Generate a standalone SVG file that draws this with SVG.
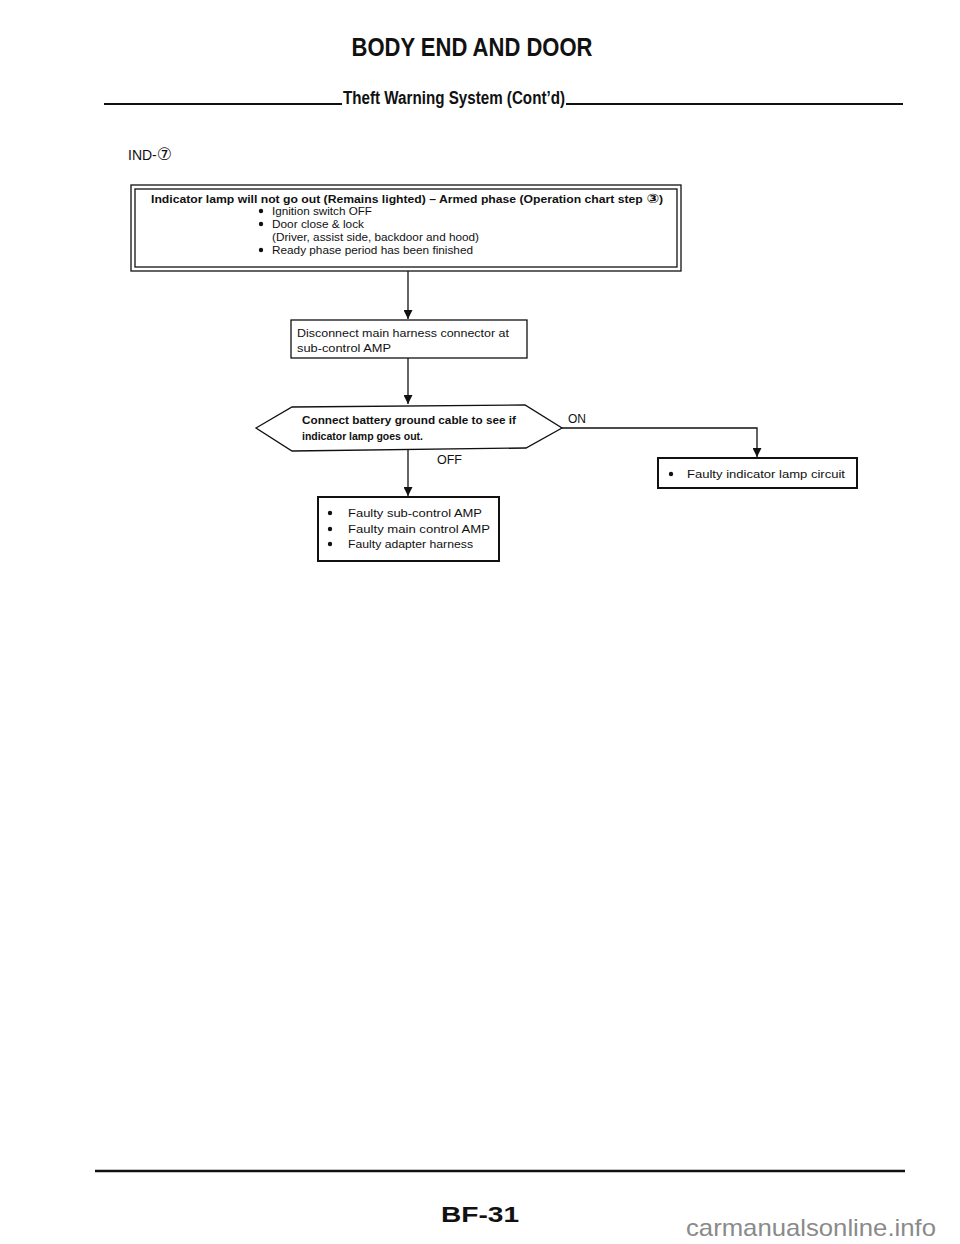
<svg xmlns="http://www.w3.org/2000/svg" width="960" height="1244" viewBox="0 0 960 1244">
<style>
.t{font-family:"Liberation Sans","DejaVu Sans",sans-serif;fill:#111}
.b{font-weight:bold}
.box{fill:none;stroke:#111;stroke-width:1.3}
.bx2{fill:none;stroke:#111;stroke-width:2}
.ln{fill:none;stroke:#111;stroke-width:1.3}
.rule{stroke:#111;stroke-width:2}
.s{font-size:11px}
.dot{fill:#111}
</style>
<defs>
<marker id="ah" viewBox="0 0 10 10" refX="10" refY="5" markerWidth="9" markerHeight="9" markerUnits="userSpaceOnUse" orient="auto">
<path d="M0,0 L10,5 L0,10 z" fill="#111"/>
</marker>
</defs>
<rect width="960" height="1244" fill="#fff"/>
<g id="header">
<text class="t b" x="472" y="56" font-size="26" text-anchor="middle" textLength="241" lengthAdjust="spacingAndGlyphs">BODY END AND DOOR</text>
<line class="rule" x1="104" y1="104" x2="342" y2="104"/>
<text class="t b" x="343" y="104" font-size="18" textLength="222" lengthAdjust="spacingAndGlyphs">Theft Warning System (Cont’d)</text>
<line class="rule" x1="566" y1="104" x2="903" y2="104"/>
<text class="t" x="128" y="160" font-size="14">IND-<tspan font-family="DejaVu Sans" font-size="17">⑦</tspan></text>
</g>
<g id="n1">
<rect class="box" x="131" y="185" width="550" height="86"/>
<rect class="box" x="135" y="189" width="542" height="78"/>
<text class="t b" font-size="10.5" x="151" y="203" textLength="512" lengthAdjust="spacingAndGlyphs">Indicator lamp will not go out (Remains lighted) – Armed phase (Operation chart step <tspan font-family="DejaVu Sans" font-size="13">③</tspan>)</text>
<circle class="dot" cx="261" cy="211" r="2.2"/>
<text class="t s" x="272" y="215" textLength="100" lengthAdjust="spacingAndGlyphs">Ignition switch OFF</text>
<circle class="dot" cx="261" cy="224" r="2.2"/>
<text class="t s" x="272" y="228" textLength="92" lengthAdjust="spacingAndGlyphs">Door close &amp; lock</text>
<text class="t s" x="272" y="241" textLength="207" lengthAdjust="spacingAndGlyphs">(Driver, assist side, backdoor and hood)</text>
<circle class="dot" cx="261" cy="250" r="2.2"/>
<text class="t s" x="272" y="254" textLength="201" lengthAdjust="spacingAndGlyphs">Ready phase period has been finished</text>
</g>
<g id="n2">
<rect class="box" x="291" y="320" width="236" height="38"/>
<text class="t s" x="297" y="337" textLength="212" lengthAdjust="spacingAndGlyphs">Disconnect main harness connector at</text>
<text class="t s" x="297" y="352" textLength="94" lengthAdjust="spacingAndGlyphs">sub-control AMP</text>
</g>
<g id="n3">
<polygon class="box" points="256,428 292,407 525,405 562,428 526,448 292,451"/>
<text class="t b s" x="302" y="424" textLength="214" lengthAdjust="spacingAndGlyphs">Connect battery ground cable to see if</text>
<text class="t b s" x="302" y="440" textLength="121" lengthAdjust="spacingAndGlyphs">indicator lamp goes out.</text>
</g>
<g id="n4">
<rect class="bx2" x="658" y="458" width="199" height="30"/>
<circle class="dot" cx="671" cy="474" r="2.2"/>
<text class="t s" x="687" y="478" textLength="158" lengthAdjust="spacingAndGlyphs">Faulty indicator lamp circuit</text>
</g>
<g id="n5">
<rect class="bx2" x="318" y="497" width="181" height="64"/>
<circle class="dot" cx="330" cy="513" r="2.2"/>
<text class="t s" x="348" y="517" textLength="134" lengthAdjust="spacingAndGlyphs">Faulty sub-control AMP</text>
<circle class="dot" cx="330" cy="529" r="2.2"/>
<text class="t s" x="348" y="533" textLength="142" lengthAdjust="spacingAndGlyphs">Faulty main control AMP</text>
<circle class="dot" cx="330" cy="544" r="2.2"/>
<text class="t s" x="348" y="548" textLength="125" lengthAdjust="spacingAndGlyphs">Faulty adapter harness</text>
</g>
<g id="connectors">
<line class="ln" x1="408" y1="271" x2="408" y2="319" marker-end="url(#ah)"/>
<line class="ln" x1="408" y1="358" x2="408" y2="404" marker-end="url(#ah)"/>
<line class="ln" x1="408" y1="450" x2="408" y2="496" marker-end="url(#ah)"/>
<polyline class="ln" points="562,428 757,428 757,457" marker-end="url(#ah)"/>
<text class="t" font-size="12" x="568" y="423">ON</text>
<text class="t" font-size="12" x="437" y="464" textLength="25" lengthAdjust="spacingAndGlyphs">OFF</text>
</g>
<g id="footer">
<line x1="95" y1="1171" x2="905" y2="1171" stroke="#111" stroke-width="2.5"/>
<text class="t b" x="441" y="1222" font-size="22" textLength="78" lengthAdjust="spacingAndGlyphs">BF-31</text>
<text x="686" y="1236" font-family="Liberation Sans, Arial, sans-serif" font-size="24" fill="#8a8a8a" textLength="250" lengthAdjust="spacingAndGlyphs">carmanualsonline.info</text>
</g>
</svg>
